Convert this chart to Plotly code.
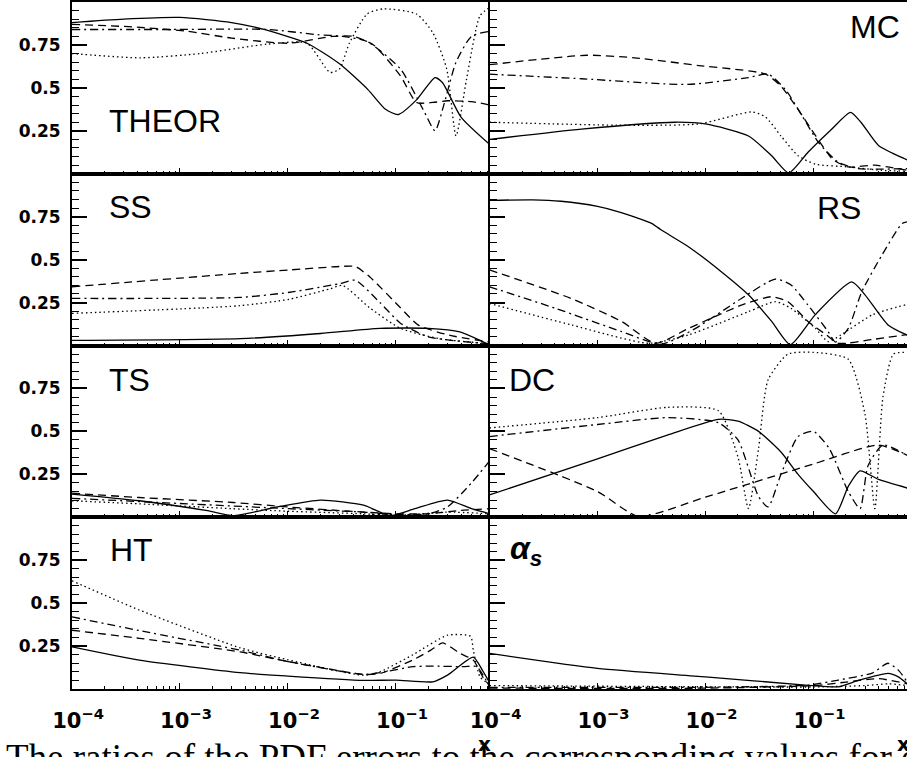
import plotly.graph_objects as go
from plotly.subplots import make_subplots

# ---------------- THEOR ----------------
theor_solid_x = [1e-4, 3e-4, 1e-3, 3e-3, 6e-3, 0.015, 0.03, 0.055, 0.08, 0.105, 0.155, 0.23, 0.27, 0.4, 0.74]
theor_solid_y = [0.88, 0.90, 0.91, 0.88, 0.84, 0.76, 0.64, 0.49, 0.375, 0.345, 0.43, 0.56, 0.53, 0.33, 0.17]
theor_dash_x = [1e-4, 3.6e-4, 1.15e-3, 3e-3, 0.01, 0.026, 0.04, 0.062, 0.11, 0.155, 0.22, 0.3, 0.5, 0.74]
theor_dash_y = [0.87, 0.855, 0.83, 0.79, 0.76, 0.80, 0.80, 0.75, 0.57, 0.415, 0.415, 0.425, 0.42, 0.40]
theor_dashdot_x = [1e-4, 7.6e-4, 6.5e-3, 0.0186, 0.032, 0.054, 0.11, 0.178, 0.23, 0.28, 0.36, 0.5, 0.74]
theor_dashdot_y = [0.84, 0.84, 0.84, 0.81, 0.80, 0.77, 0.61, 0.375, 0.25, 0.41, 0.65, 0.80, 0.83]
theor_dot_x = [1e-4, 4.3e-4, 1.55e-3, 6.5e-3, 0.015, 0.0245, 0.03, 0.037, 0.054, 0.076, 0.155, 0.22, 0.295, 0.36, 0.45, 0.6, 0.74]
theor_dot_y = [0.70, 0.675, 0.70, 0.755, 0.76, 0.59, 0.61, 0.76, 0.93, 0.96, 0.93, 0.82, 0.61, 0.22, 0.55, 0.92, 0.97]

# ---------------- MC ----------------
mc_solid_x = [1e-4, 7.1e-4, 5.2e-3, 0.01, 0.025, 0.041, 0.059, 0.089, 0.148, 0.22, 0.275, 0.40, 0.71, 0.74]
mc_solid_y = [0.20, 0.26, 0.30, 0.29, 0.22, 0.105, 0.005, 0.125, 0.26, 0.357, 0.30, 0.165, 0.085, 0.08]
mc_dash_x = [1e-4, 8e-4, 2.2e-3, 8.7e-3, 0.036, 0.05, 0.072, 0.105, 0.15, 0.21, 0.37, 0.74]
mc_dash_y = [0.635, 0.69, 0.675, 0.63, 0.58, 0.51, 0.375, 0.22, 0.085, 0.04, 0.05, 0.02]
mc_dashdot_x = [1e-4, 7.1e-4, 6.9e-3, 0.025, 0.038, 0.055, 0.078, 0.112, 0.17, 0.26, 0.74]
mc_dashdot_y = [0.58, 0.553, 0.52, 0.56, 0.58, 0.49, 0.34, 0.18, 0.067, 0.03, 0.03]
mc_dot_x = [1e-4, 1.5e-3, 8.7e-3, 0.027, 0.036, 0.05, 0.072, 0.105, 0.21, 0.43, 0.74]
mc_dot_y = [0.30, 0.283, 0.29, 0.36, 0.33, 0.22, 0.105, 0.055, 0.04, 0.02, 0.015]

# ---------------- SS ----------------
ss_solid_x = [1e-4, 3.6e-3, 0.02, 0.071, 0.2, 0.39, 0.6, 0.74]
ss_solid_y = [0.03, 0.04, 0.07, 0.10, 0.10, 0.08, 0.03, 0.0]
ss_dash_x = [1e-4, 3.6e-3, 0.0104, 0.03, 0.042, 0.057, 0.11, 0.16, 0.31, 0.74]
ss_dash_y = [0.342, 0.42, 0.44, 0.46, 0.46, 0.40, 0.22, 0.12, 0.06, 0.02]
ss_dashdot_x = [1e-4, 3.6e-3, 0.0104, 0.03, 0.042, 0.071, 0.11, 0.2, 0.74]
ss_dashdot_y = [0.274, 0.28, 0.31, 0.36, 0.38, 0.25, 0.13, 0.05, 0.01]
ss_dot_x = [1e-4, 3.6e-3, 0.0104, 0.0245, 0.032, 0.057, 0.11, 0.25, 0.74]
ss_dot_y = [0.187, 0.232, 0.27, 0.33, 0.35, 0.22, 0.10, 0.04, 0.01]

# ---------------- RS ----------------
rs_solid_x = [1e-4, 2.5e-4, 4.6e-4, 1e-3, 1.6e-3, 3.2e-3, 3.9e-3, 7e-3, 0.014, 0.025, 0.041, 0.061, 0.104, 0.226, 0.30, 0.49, 0.74]
rs_solid_y = [0.845, 0.848, 0.84, 0.81, 0.777, 0.71, 0.672, 0.574, 0.43, 0.295, 0.14, 0.005, 0.18, 0.37, 0.295, 0.12, 0.06]
rs_dash_x = [1e-4, 5.7e-4, 1.67e-3, 3.45e-3, 7e-3, 0.0215, 0.0408, 0.058, 0.089, 0.13, 0.17, 0.35, 0.74]
rs_dash_y = [0.44, 0.274, 0.14, 0.013, 0.10, 0.235, 0.284, 0.255, 0.14, 0.064, 0.013, 0.035, 0.064]
rs_dashdot_x = [1e-4, 4.1e-4, 1.67e-3, 3.9e-3, 8.1e-3, 0.0215, 0.0445, 0.062, 0.089, 0.137, 0.16, 0.21, 0.28, 0.43, 0.66, 0.74]
rs_dashdot_y = [0.342, 0.216, 0.081, 0.008, 0.10, 0.274, 0.387, 0.352, 0.235, 0.08, 0.02, 0.10, 0.313, 0.526, 0.71, 0.72]
rs_dot_x = [1e-4, 5.7e-4, 3e-3, 7e-3, 0.025, 0.0445, 0.062, 0.104, 0.137, 0.18, 0.35, 0.74]
rs_dot_y = [0.245, 0.12, 0.013, 0.062, 0.197, 0.255, 0.216, 0.10, 0.023, 0.062, 0.178, 0.24]

# ---------------- TS ----------------
ts_solid_x = [1e-4, 4.2e-4, 1.8e-3, 3.1e-3, 8e-3, 0.02, 0.05, 0.088, 0.15, 0.3, 0.5, 0.74]
ts_solid_y = [0.135, 0.096, 0.038, 0.01, 0.06, 0.10, 0.07, 0.01, 0.05, 0.10, 0.05, 0.02]
ts_dash_x = [1e-4, 4.2e-4, 3.1e-3, 0.01, 0.05, 0.1, 0.2, 0.4, 0.74]
ts_dash_y = [0.14, 0.115, 0.086, 0.06, 0.03, 0.02, 0.02, 0.04, 0.05]
ts_dashdot_x = [1e-4, 1e-3, 0.01, 0.05, 0.1, 0.2, 0.3, 0.5, 0.74]
ts_dashdot_y = [0.11, 0.08, 0.05, 0.03, 0.015, 0.02, 0.06, 0.20, 0.33]
ts_dot_x = [1e-4, 4.2e-4, 3e-3, 0.01, 0.05, 0.1, 0.3, 0.74]
ts_dot_y = [0.096, 0.078, 0.05, 0.035, 0.02, 0.01, 0.03, 0.02]

# ---------------- DC ----------------
dc_solid_x = [1e-4, 1e-3, 4.5e-3, 0.0132, 0.02, 0.031, 0.05, 0.072, 0.1, 0.16, 0.21, 0.27, 0.4, 0.74]
dc_solid_y = [0.13, 0.34, 0.48, 0.57, 0.56, 0.50, 0.38, 0.25, 0.15, 0.02, 0.18, 0.27, 0.22, 0.17]
dc_dash_x = [1e-4, 1e-3, 2.4e-3, 0.01, 0.1, 0.4, 0.74]
dc_dash_y = [0.40, 0.15, 0.005, 0.117, 0.31, 0.42, 0.36]
dc_dashdot_x = [1e-4, 1e-3, 4.5e-3, 0.0132, 0.02, 0.031, 0.038, 0.05, 0.072, 0.1, 0.14, 0.21, 0.27, 0.32, 0.44, 0.74]
dc_dashdot_y = [0.47, 0.54, 0.58, 0.55, 0.45, 0.12, 0.06, 0.25, 0.47, 0.50, 0.40, 0.15, 0.05, 0.30, 0.42, 0.36]
dc_dot_x = [1e-4, 1e-3, 4.5e-3, 0.0132, 0.02, 0.025, 0.031, 0.038, 0.058, 0.1, 0.21, 0.3, 0.37, 0.44, 0.55, 0.74]
dc_dot_y = [0.52, 0.58, 0.64, 0.62, 0.35, 0.05, 0.40, 0.80, 0.95, 0.96, 0.92, 0.60, 0.05, 0.70, 0.95, 0.96]

# ---------------- HT ----------------
ht_solid_x = [1e-4, 4.2e-4, 3.6e-3, 0.01, 0.05, 0.1, 0.22, 0.30, 0.52, 0.63, 0.74]
ht_solid_y = [0.245, 0.168, 0.095, 0.075, 0.05, 0.052, 0.042, 0.081, 0.186, 0.11, 0.035]
ht_dash_x = [1e-4, 4.2e-4, 3.6e-3, 0.01, 0.05, 0.071, 0.144, 0.21, 0.27, 0.39, 0.52, 0.65, 0.74]
ht_dash_y = [0.342, 0.295, 0.216, 0.16, 0.085, 0.09, 0.17, 0.226, 0.268, 0.208, 0.168, 0.06, 0.02]
ht_dashdot_x = [1e-4, 4.2e-4, 3.6e-3, 0.01, 0.05, 0.071, 0.144, 0.21, 0.42, 0.56, 0.70, 0.74]
ht_dashdot_y = [0.42, 0.34, 0.226, 0.16, 0.085, 0.095, 0.13, 0.133, 0.13, 0.13, 0.04, 0.02]
ht_dot_x = [1e-4, 4.2e-4, 3.6e-3, 0.01, 0.05, 0.071, 0.144, 0.30, 0.49, 0.52, 0.6, 0.70, 0.74]
ht_dot_y = [0.63, 0.46, 0.24, 0.17, 0.08, 0.10, 0.20, 0.313, 0.307, 0.226, 0.07, 0.035, 0.02]

# ---------------- alpha_s ----------------
as_solid_x = [1e-4, 1e-3, 0.01, 0.084, 0.17, 0.26, 0.49, 0.61, 0.74]
as_solid_y = [0.207, 0.12, 0.071, 0.023, 0.013, 0.05, 0.091, 0.071, 0.03]
as_dash_x = [1e-4, 0.01, 0.1, 0.2, 0.4, 0.74]
as_dash_y = [0.005, 0.005, 0.02, 0.04, 0.06, 0.03]
as_dashdot_x = [1e-4, 0.01, 0.09, 0.17, 0.35, 0.49, 0.61, 0.74]
as_dashdot_y = [0.01, 0.01, 0.023, 0.052, 0.093, 0.15, 0.11, 0.04]
as_dot_x = [1e-4, 0.1, 0.3, 0.5, 0.74]
as_dot_y = [0.02, 0.012, 0.02, 0.03, 0.02]

panel_labels = ["THEOR", "MC", "SS", "RS", "TS", "DC", "HT", "<b><i>α<sub>s</sub></i></b>"]
x_tick_vals = [1e-4, 1e-3, 1e-2, 1e-1]
x_tick_text = ["10<sup>−4</sup>", "10<sup>−3</sup>", "10<sup>−2</sup>", "10<sup>−1</sup>"]
y_tick_vals = [0.25, 0.5, 0.75]
y_tick_text = ["0.25", "0.5", "0.75"]
caption = "The ratios of the PDF errors to the corresponding values for each source and PDF"

panels = [
    (1, 1, [(theor_solid_x, theor_solid_y), (theor_dash_x, theor_dash_y), (theor_dashdot_x, theor_dashdot_y), (theor_dot_x, theor_dot_y)]),
    (1, 2, [(mc_solid_x, mc_solid_y), (mc_dash_x, mc_dash_y), (mc_dashdot_x, mc_dashdot_y), (mc_dot_x, mc_dot_y)]),
    (2, 1, [(ss_solid_x, ss_solid_y), (ss_dash_x, ss_dash_y), (ss_dashdot_x, ss_dashdot_y), (ss_dot_x, ss_dot_y)]),
    (2, 2, [(rs_solid_x, rs_solid_y), (rs_dash_x, rs_dash_y), (rs_dashdot_x, rs_dashdot_y), (rs_dot_x, rs_dot_y)]),
    (3, 1, [(ts_solid_x, ts_solid_y), (ts_dash_x, ts_dash_y), (ts_dashdot_x, ts_dashdot_y), (ts_dot_x, ts_dot_y)]),
    (3, 2, [(dc_solid_x, dc_solid_y), (dc_dash_x, dc_dash_y), (dc_dashdot_x, dc_dashdot_y), (dc_dot_x, dc_dot_y)]),
    (4, 1, [(ht_solid_x, ht_solid_y), (ht_dash_x, ht_dash_y), (ht_dashdot_x, ht_dashdot_y), (ht_dot_x, ht_dot_y)]),
    (4, 2, [(as_solid_x, as_solid_y), (as_dash_x, as_dash_y), (as_dashdot_x, as_dashdot_y), (as_dot_x, as_dot_y)]),
]
line_styles = ["solid", "8px,5px", "8px,4px,2px,4px", "1.5px,3px"]

W, H = 907, 757
ML, MB, MT = 72, 68, 0
PW, PH = W - ML, H - MB - MT

fig = make_subplots(rows=4, cols=2, horizontal_spacing=0, vertical_spacing=0)

for row, col, curves in panels:
    for (xs, ys), dash in zip(curves, line_styles):
        fig.add_trace(
            go.Scatter(x=xs, y=ys, mode="lines",
                       line=dict(color="black", width=1.3, dash=dash, shape="spline", smoothing=0.6),
                       showlegend=False, hoverinfo="skip"),
            row=row, col=col,
        )

minor_x = [m * 10.0 ** e for e in range(-4, 0) for m in range(2, 10)]
minor_y = [round(0.05 * k, 2) for k in range(1, 20) if k % 5 != 0]

for row in range(1, 5):
    for col in range(1, 3):
        fig.update_xaxes(
            type="log", range=[-4, -0.134], showgrid=False, zeroline=False,
            showline=True, linecolor="black", linewidth=2, mirror=True,
            ticks="inside", tickvals=x_tick_vals,
            ticktext=["<b>%s</b>" % t for t in x_tick_text],
            ticklen=6, tickwidth=1.3, tickcolor="black",
            minor=dict(ticks="inside", tickvals=minor_x, ticklen=3, tickwidth=1, tickcolor="black"),
            showticklabels=(row == 4),
            tickfont=dict(family="DejaVu Sans", size=21, color="black"),
            ticklabelstandoff=12, ticklabelshift=6,
            row=row, col=col,
        )
        fig.update_yaxes(
            range=[0, 1], showgrid=False, zeroline=False,
            showline=True, linecolor="black", linewidth=2, mirror=False,
            ticks="inside", tickvals=y_tick_vals, ticktext=["<b>%s</b>" % t for t in y_tick_text],
            ticklen=15, tickwidth=1.5, tickcolor="black",
            minor=dict(ticks="inside", tickvals=minor_y, ticklen=7, tickwidth=1, tickcolor="black"),
            showticklabels=(col == 1),
            tickfont=dict(family="DejaVu Sans", size=17, color="black"),
            ticklabelstandoff=6,
            row=row, col=col,
        )


def px_to_paper(px, py):
    return (px - ML) / PW, (H - MB - py) / PH


# panel titles: (left pixel, centre pixel)
label_pos = [(107, 119), (848, 25), (107, 206), (815, 207), (107, 379), (507, 379), (108, 550), (508, 550)]
annotations = []
for text, (lx, ly) in zip(panel_labels, label_pos):
    ax, ay = px_to_paper(lx, ly)
    annotations.append(dict(text=text, x=ax, y=ay, xref="paper", yref="paper",
                            xanchor="left", yanchor="middle", showarrow=False,
                            font=dict(family="Liberation Sans", size=32, color="black")))

for cx in (484, 903):
    ax, ay = px_to_paper(cx, 744)
    annotations.append(dict(text="<b>x</b>", x=ax, y=ay, xref="paper", yref="paper",
                            xanchor="center", yanchor="middle", showarrow=False,
                            font=dict(family="DejaVu Sans", size=20, color="black")))

cap_x, cap_y = px_to_paper(4, 735)
annotations.append(dict(text=caption,
                        x=cap_x, y=cap_y, xref="paper", yref="paper",
                        xanchor="left", yanchor="top", showarrow=False, align="left",
                        font=dict(family="Liberation Serif", size=37, color="black")))

fig.update_layout(
    width=W, height=H,
    margin=dict(l=ML, r=0, t=MT, b=MB, pad=0),
    paper_bgcolor="white", plot_bgcolor="white",
    annotations=annotations,
    showlegend=False,
)

fig.write_html("out.html")
